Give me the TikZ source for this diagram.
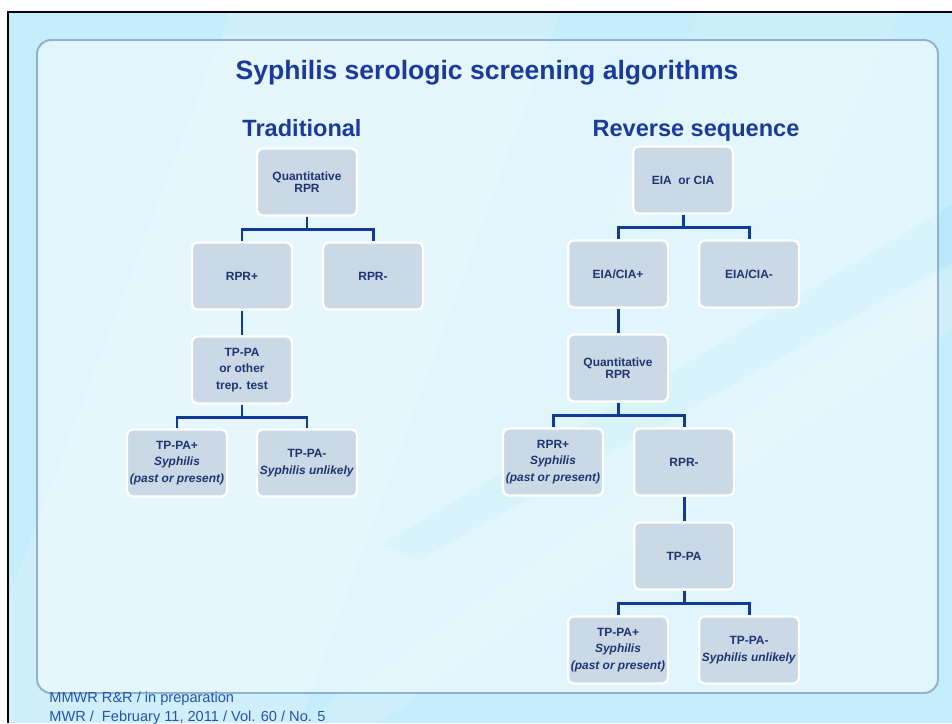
\documentclass[tikz,border=0pt]{standalone}
\usepackage{fontspec}
\setmainfont{Liberation Sans}
\usetikzlibrary{calc}

\definecolor{pagebg}{HTML}{C6EDFB}
\definecolor{panelline}{HTML}{8DB4CF}
\definecolor{titleblue}{HTML}{1A3A9E}
\definecolor{boxfill}{HTML}{CBD8E6}
\definecolor{boxtext}{HTML}{1D3570}
\definecolor{linkblue}{HTML}{0F3A98}
\definecolor{footblue}{HTML}{2452B4}
\definecolor{streak}{HTML}{8AD8F5}

\tikzset{
  stepbox/.style={draw=white, line width=1.4pt, fill=boxfill, rounded corners=3pt,
    minimum width=2cm, minimum height=1.34cm, inner sep=1pt, align=center,
    text=boxtext, font=\fontsize{6.8}{9.6}\selectfont\bfseries},
  tightbox/.style={stepbox, font=\fontsize{6.8}{7.1}\selectfont\bfseries},
  conn/.style={draw=linkblue, line width=1.7pt, line join=miter},
  heading/.style={text=titleblue, font=\fontsize{13.4}{16}\selectfont\bfseries, anchor=base},
  foot/.style={text=footblue, font=\fontsize{8.3}{10}\selectfont, anchor=base west, inner sep=0pt}
}

\begin{document}
\begin{tikzpicture}[x=0.02cm, y=-0.02cm]
  \useasboundingbox (0,0) rectangle (952,723);

  % page background with faint diagonal light streaks, and the frame
  \fill[white] (0,0) rectangle (952,723);
  \fill[pagebg] (8,12) rectangle (952,723);
  \fill[white, opacity=0.14] (230,12) -- (560,12) -- (300,723) -- (8,723) -- (8,600) -- cycle;
  \fill[white, opacity=0.10] (700,12) -- (900,12) -- (820,200) -- (600,230) -- cycle;
  \fill[streak, opacity=0.22] (952,205) -- (952,262) -- (420,560) -- (380,545) -- cycle;
  \fill[white, opacity=0.12] (952,265) -- (952,330) -- (380,723) -- (300,723) -- cycle;
  \draw[black, line width=1.4pt] (8,723) -- (8,12) -- (952,12);

  % central panel
  \fill[white, opacity=0.48, rounded corners=8pt] (37,40) rectangle (938,693);
  \draw[panelline, line width=1.1pt, rounded corners=8pt] (37,40) rectangle (938,693);

  % headings
  \node[heading, font=\fontsize{15.1}{18}\selectfont\bfseries] (title) at (487,80) {Syphilis serologic screening algorithms};
  \node[heading] (trad) at (302,136) {Traditional};
  \node[heading] (rev) at (696,136) {Reverse sequence};

  % traditional algorithm
  \node[tightbox] (q1)   at (307,182) {Quantitative\\RPR};
  \node[stepbox]  (rp1)  at (242,276) {RPR+};
  \node[stepbox]  (rm1)  at (373,276) {RPR-};
  \node[stepbox]  (tp1)  at (242,370) {TP-PA\\or other\\trep. test};
  \node[stepbox]  (tpp1) at (177,463) {TP-PA+\\\textit{Syphilis}\\\textit{(past or present)}};
  \node[stepbox]  (tpm1) at (307,463) {TP-PA-\\\textit{Syphilis unlikely}};

  \draw[conn] (q1.south) -- ++(0,13) -| (rp1.north);
  \draw[conn] (q1.south) -- ++(0,13) -| (rm1.north);
  \draw[conn] (rp1.south) -- (tp1.north);
  \draw[conn] (tp1.south) -- ++(0,13) -| (tpp1.north);
  \draw[conn] (tp1.south) -- ++(0,13) -| (tpm1.north);

  % reverse sequence algorithm
  \node[stepbox]  (e)    at (683,180) {EIA~~or CIA};
  \node[stepbox]  (ep)   at (618,274) {EIA/CIA+};
  \node[stepbox]  (em)   at (749,274) {EIA/CIA-};
  \node[tightbox] (q2)   at (618,368) {Quantitative\\RPR};
  \node[stepbox]  (rp2)  at (553,462) {RPR+\\\textit{Syphilis}\\\textit{(past or present)}};
  \node[stepbox]  (rm2)  at (684,462) {RPR-};
  \node[stepbox]  (tp2)  at (684,556) {TP-PA};
  \node[stepbox]  (tpp2) at (618,650) {TP-PA+\\\textit{Syphilis}\\\textit{(past or present)}};
  \node[stepbox]  (tpm2) at (749,650) {TP-PA-\\\textit{Syphilis unlikely}};

  \draw[conn] (e.south) -- ++(0,13) -| (ep.north);
  \draw[conn] (e.south) -- ++(0,13) -| (em.north);
  \draw[conn] (ep.south) -- (q2.north);
  \draw[conn] (q2.south) -- ++(0,13) -| (rp2.north);
  \draw[conn] (q2.south) -- ++(0,13) -| (rm2.north);
  \draw[conn] (rm2.south) -- (tp2.north);
  \draw[conn] (tp2.south) -- ++(0,13) -| (tpp2.north);
  \draw[conn] (tp2.south) -- ++(0,13) -| (tpm2.north);

  % source notes
  \node[foot] (src1) at (49,702) {MMWR R\&R / in preparation};
  \node[foot] (src2) at (49,721) {MWR /~~February 11, 2011 / Vol. 60 / No. 5};
\end{tikzpicture}
\end{document}
